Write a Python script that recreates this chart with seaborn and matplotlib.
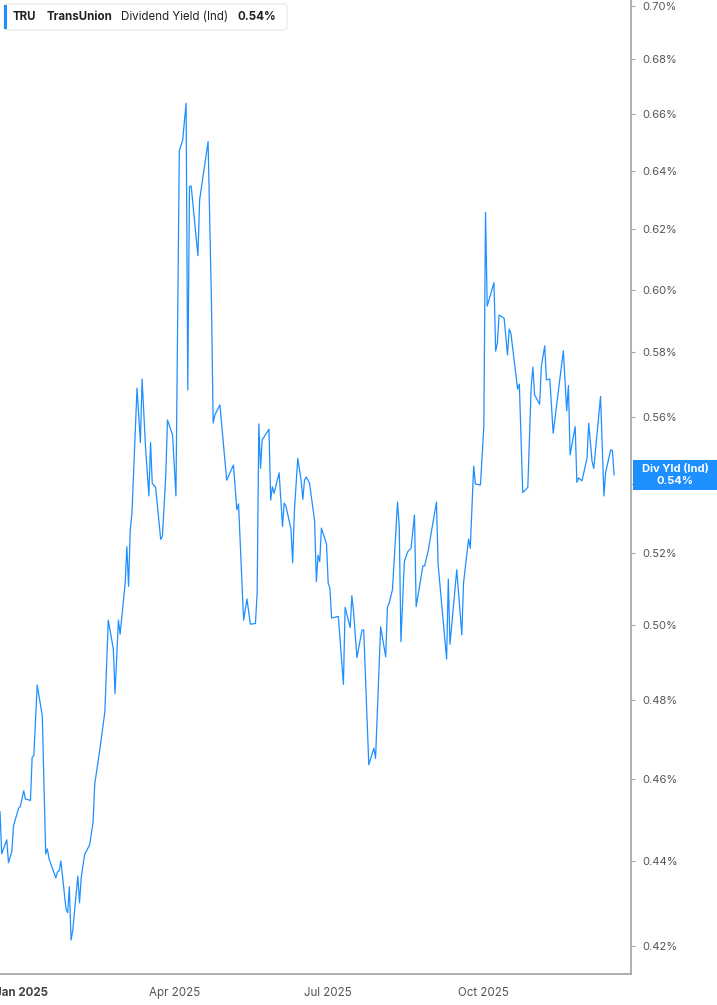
import pandas as pd
import matplotlib
matplotlib.use("Agg")
import matplotlib.pyplot as plt
from matplotlib.ticker import FixedLocator, FuncFormatter, NullLocator
from matplotlib.patches import FancyBboxPatch, Rectangle
import seaborn as sns

# 数据
dates = [
    "2024-12-19", "2024-12-20", "2024-12-23", "2024-12-24", "2024-12-26", "2024-12-27",
    "2024-12-30", "2024-12-31", "2025-01-02", "2025-01-03", "2025-01-06", "2025-01-07",
    "2025-01-08", "2025-01-10", "2025-01-13", "2025-01-15", "2025-01-16", "2025-01-17",
    "2025-01-21", "2025-01-22", "2025-01-23", "2025-01-24", "2025-01-27", "2025-01-28",
    "2025-01-29", "2025-01-30", "2025-01-31", "2025-02-03", "2025-02-04", "2025-02-05",
    "2025-02-07", "2025-02-10", "2025-02-12", "2025-02-13", "2025-02-16", "2025-02-19",
    "2025-02-21", "2025-02-24", "2025-02-25", "2025-02-27", "2025-02-28", "2025-03-03",
    "2025-03-04", "2025-03-05", "2025-03-06", "2025-03-07", "2025-03-10", "2025-03-12",
    "2025-03-13", "2025-03-15", "2025-03-17", "2025-03-18", "2025-03-19", "2025-03-21",
    "2025-03-24", "2025-03-25", "2025-03-27", "2025-03-28", "2025-03-31", "2025-04-02",
    "2025-04-04", "2025-04-06", "2025-04-08", "2025-04-09", "2025-04-10", "2025-04-11",
    "2025-04-15", "2025-04-16", "2025-04-21", "2025-04-23", "2025-04-24", "2025-04-25",
    "2025-04-28", "2025-04-30", "2025-05-02", "2025-05-06", "2025-05-08", "2025-05-09",
    "2025-05-12", "2025-05-14", "2025-05-16", "2025-05-19", "2025-05-20", "2025-05-21",
    "2025-05-22", "2025-05-23", "2025-05-27", "2025-05-28", "2025-05-29", "2025-05-30",
    "2025-06-02", "2025-06-04", "2025-06-05", "2025-06-06", "2025-06-09", "2025-06-10",
    "2025-06-11", "2025-06-13", "2025-06-15", "2025-06-16", "2025-06-17", "2025-06-18",
    "2025-06-20", "2025-06-23", "2025-06-24", "2025-06-25", "2025-06-26", "2025-06-27",
    "2025-06-30", "2025-07-01", "2025-07-02", "2025-07-03", "2025-07-07", "2025-07-10",
    "2025-07-11", "2025-07-14", "2025-07-15", "2025-07-16", "2025-07-18", "2025-07-21",
    "2025-07-22", "2025-07-25", "2025-07-28", "2025-07-29", "2025-08-01", "2025-08-04",
    "2025-08-05", "2025-08-06", "2025-08-08", "2025-08-11", "2025-08-12", "2025-08-13",
    "2025-08-15", "2025-08-17", "2025-08-19", "2025-08-21", "2025-08-22", "2025-08-26",
    "2025-08-27", "2025-08-29", "2025-09-03", "2025-09-04", "2025-09-09", "2025-09-10",
    "2025-09-11", "2025-09-15", "2025-09-18", "2025-09-19", "2025-09-22", "2025-09-23",
    "2025-09-25", "2025-09-26", "2025-09-29", "2025-10-01", "2025-10-02", "2025-10-03",
    "2025-10-07", "2025-10-08", "2025-10-09", "2025-10-10", "2025-10-13", "2025-10-15",
    "2025-10-16", "2025-10-17", "2025-10-21", "2025-10-22", "2025-10-24", "2025-10-27",
    "2025-10-29", "2025-10-30", "2025-10-31", "2025-11-03", "2025-11-04", "2025-11-06",
    "2025-11-07", "2025-11-09", "2025-11-11", "2025-11-17", "2025-11-19", "2025-11-20",
    "2025-11-21", "2025-11-24", "2025-11-25", "2025-11-26", "2025-11-28", "2025-12-01",
    "2025-12-02", "2025-12-04", "2025-12-05", "2025-12-09", "2025-12-11", "2025-12-12",
    "2025-12-15", "2025-12-16", "2025-12-17",
]
div_yield = [
    0.4519, 0.4416, 0.4450, 0.4395, 0.4422, 0.4484,
    0.4527, 0.4531, 0.4570, 0.4550, 0.4546, 0.4654,
    0.4658, 0.4840, 0.4760, 0.4416, 0.4428, 0.4404,
    0.4359, 0.4373, 0.4376, 0.4399, 0.4286, 0.4277,
    0.4338, 0.4214, 0.4236, 0.4363, 0.4300, 0.4359,
    0.4414, 0.4438, 0.4492, 0.4587, 0.4673, 0.4771,
    0.5014, 0.4936, 0.4818, 0.5014, 0.4976, 0.5116,
    0.5218, 0.5107, 0.5266, 0.5314, 0.5688, 0.5522,
    0.5716, 0.5510, 0.5364, 0.5522, 0.5401, 0.5389,
    0.5239, 0.5247, 0.5425, 0.5590, 0.5545, 0.5364,
    0.6470, 0.6509, 0.6640, 0.5682, 0.6346, 0.6348,
    0.6112, 0.6300, 0.6503, 0.5957, 0.5581, 0.5605,
    0.5636, 0.5520, 0.5410, 0.5455, 0.5324, 0.5341,
    0.5014, 0.5072, 0.5003, 0.5005, 0.5088, 0.5578,
    0.5445, 0.5530, 0.5562, 0.5352, 0.5391, 0.5372,
    0.5432, 0.5276, 0.5343, 0.5335, 0.5268, 0.5173,
    0.5319, 0.5475, 0.5410, 0.5354, 0.5410, 0.5420,
    0.5401, 0.5290, 0.5120, 0.5194, 0.5176, 0.5271,
    0.5226, 0.5116, 0.5102, 0.5020, 0.5024, 0.4842,
    0.5049, 0.4994, 0.5081, 0.5037, 0.4913, 0.4987,
    0.4987, 0.4635, 0.4677, 0.4651, 0.4996, 0.4915,
    0.5049, 0.5060, 0.5098, 0.5346, 0.5276, 0.4956,
    0.5176, 0.5204, 0.5214, 0.5309, 0.5051, 0.5164,
    0.5164, 0.5204, 0.5346, 0.5167, 0.4909, 0.5127,
    0.4949, 0.5153, 0.4974, 0.5116, 0.5240, 0.5214,
    0.5452, 0.5399, 0.5396, 0.5570, 0.6257, 0.5947,
    0.6023, 0.5803, 0.5828, 0.5918, 0.5908, 0.5791,
    0.5873, 0.5860, 0.5685, 0.5700, 0.5374, 0.5389,
    0.5693, 0.5753, 0.5667, 0.5638, 0.5755, 0.5820,
    0.5713, 0.5716, 0.5550, 0.5804, 0.5618, 0.5696,
    0.5485, 0.5570, 0.5404, 0.5417, 0.5408, 0.5475,
    0.5580, 0.5465, 0.5445, 0.5662, 0.5364, 0.5433,
    0.5500, 0.5498, 0.5425,
]

ticker = "TRU"
company = "TransUnion"
metric = "Dividend Yield (Ind)"
badge_name = "Div Yld (Ind)"
y_ticks = [0.42, 0.44, 0.46, 0.48, 0.50, 0.52, 0.54, 0.56, 0.58, 0.60, 0.62, 0.64, 0.66, 0.68, 0.70]
x_ticks = ["2025-01-01", "2025-04-01", "2025-07-01", "2025-10-01"]
x_labels = ["Jan 2025", "Apr 2025", "Jul 2025", "Oct 2025"]

line_color = "#1e8fff"
grey = "#a8a8a8"
label_color = "#555555"

sns.set_style("white")
plt.rcParams["font.family"] = ["Inter", "DejaVu Sans"]

df = pd.DataFrame({"date": pd.to_datetime(dates), "yield": div_yield})
last = df["yield"].iloc[-1]

W, H = 717, 1005
fig = plt.figure(figsize=(W / 100, H / 100), dpi=100)
ax = fig.add_axes([0, 31 / H, 631 / W, 974 / H])

sns.lineplot(data=df, x="date", y="yield", ax=ax, color=line_color, linewidth=0.9)

ax.set_yscale("log")
ax.set_ylim(0.4137, 0.7023)
ax.set_xlim(pd.Timestamp("2024-12-19"), pd.Timestamp("2025-12-27"))
ax.yaxis.set_major_locator(FixedLocator(y_ticks))
ax.yaxis.set_minor_locator(NullLocator())
ax.yaxis.set_major_formatter(FuncFormatter(lambda v, p: f"{v:.2f}%"))
ax.yaxis.tick_right()
ax.set_xticks(pd.to_datetime(x_ticks))
ax.set_xticklabels(x_labels)
ax.xaxis.set_minor_locator(NullLocator())
ax.set_xlabel("")
ax.set_ylabel("")

for s in ["left", "top"]:
    ax.spines[s].set_visible(False)
for s in ["right", "bottom"]:
    ax.spines[s].set_color(grey)
    ax.spines[s].set_linewidth(1.3)

ax.tick_params(axis="y", which="major", direction="out", length=3, width=0.8,
               color=grey, labelsize=8, labelcolor=label_color, pad=5)
ax.tick_params(axis="x", which="major", direction="out", length=4, width=0.8,
               color=grey, labelsize=8.3, labelcolor=label_color, pad=5)
ax.get_xticklabels()[0].set_fontweight("bold")
ax.get_xticklabels()[0].set_color("#444444")

# 左上图例
box = FancyBboxPatch((4 / W, 1 - 30 / H), 283 / W, 26 / H,
                     boxstyle="round,pad=0,rounding_size=0.004",
                     transform=fig.transFigure, facecolor="white",
                     edgecolor="#e6e6e6", linewidth=0.8)
fig.patches.append(box)
fig.patches.append(Rectangle((4 / W, 1 - 29 / H), 3 / W, 24 / H,
                             transform=fig.transFigure, facecolor=line_color,
                             edgecolor="none"))
ty = 1 - 17 / H
fig.text(13 / W, ty, ticker, fontsize=8.3, fontweight="bold", color="#222222", va="center")
fig.text(47 / W, ty, company, fontsize=8.3, fontweight="bold", color="#222222", va="center")
fig.text(121 / W, ty, metric, fontsize=8.3, color="#222222", va="center")
fig.text(238 / W, ty, f"{last:.2f}%", fontsize=8.3, fontweight="bold", color="#222222", va="center")

# 右侧最新值标签
y_disp = ax.transData.transform((ax.get_xlim()[0], last))[1]
y_fig = fig.transFigure.inverted().transform((0, y_disp))[1]
fig.patches.append(Rectangle((633 / W, y_fig - 15 / H), 84 / W, 30 / H,
                             transform=fig.transFigure, facecolor=line_color,
                             edgecolor="none", zorder=5))
fig.text(675 / W, y_fig + 6 / H, badge_name, fontsize=8, fontweight="bold",
         color="white", ha="center", va="center", zorder=6)
fig.text(675 / W, y_fig - 6 / H, f"{last:.2f}%", fontsize=8, fontweight="bold",
         color="white", ha="center", va="center", zorder=6)

fig.savefig("out.png", dpi=100)
